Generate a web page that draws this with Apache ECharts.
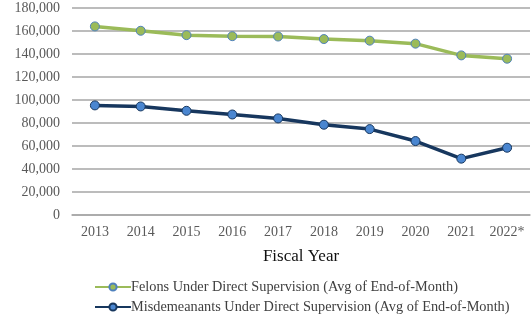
<!DOCTYPE html>
<html><head><meta charset="utf-8">
<script src="https://cdn.jsdelivr.net/npm/echarts@6/dist/echarts.min.js"></script>
<style>html,body{margin:0;padding:0;background:#fff}#c{width:532px;height:322px}</style>
</head><body><div id="c"></div>
<script>
var years = ['2013','2014','2015','2016','2017','2018','2019','2020','2021','2022*'];
var felons = [164000,160200,156400,155500,155200,153000,151600,149000,138800,135900];
var misdemeanants = [95300,94400,90600,87400,84000,78500,74700,64300,49000,58500];
var yTicks = {min:0, max:180000, interval:20000};

var chart = echarts.init(document.getElementById('c'));
var font = '"Liberation Serif", "Times New Roman", serif';
chart.setOption({
  animation:false,
  textStyle:{fontFamily:font},
  grid:{left:72, right:2, top:8, bottom:107},
  xAxis:{type:'category', data:years, boundaryGap:true,
    name:'Fiscal Year', nameLocation:'middle', nameGap:33,
    nameTextStyle:{fontFamily:font, fontSize:17, color:'#111'},
    axisLine:{show:true, lineStyle:{color:'#a6a6a6', width:1.5}},
    axisTick:{show:false},
    axisLabel:{fontFamily:font, fontSize:14, color:'#595959', margin:10}},
  yAxis:{type:'value', min:yTicks.min, max:yTicks.max, interval:yTicks.interval,
    axisLine:{show:false}, axisTick:{show:false},
    splitLine:{lineStyle:{color:'#a6a6a6', width:1.5}},
    axisLabel:{fontFamily:font, fontSize:14, color:'#595959', margin:12,
      formatter:function(v){return v.toLocaleString('en-US');}}},
  legend:{orient:'vertical', left:94, top:280, height:60, padding:0, itemWidth:36, itemHeight:9, itemGap:6,
    textStyle:{fontFamily:font, fontSize:14.3, color:'#404040', padding:[0,0,0,-5]},
    data:['Felons Under Direct Supervision (Avg of End-of-Month)','Misdemeanants Under Direct Supervision (Avg of End-of-Month)']},
  series:[
    {name:'Felons Under Direct Supervision (Avg of End-of-Month)', type:'line', data:felons,
     symbol:'circle', symbolSize:9,
     lineStyle:{color:'#9bbb59', width:3.5},
     itemStyle:{color:'#9bbb59', borderColor:'#4f81bd', borderWidth:1}},
    {name:'Misdemeanants Under Direct Supervision (Avg of End-of-Month)', type:'line', data:misdemeanants,
     symbol:'circle', symbolSize:9,
     lineStyle:{color:'#17375e', width:3.5},
     itemStyle:{color:'#4a86d0', borderColor:'#17375e', borderWidth:1}}
  ]
});
</script></body></html>
